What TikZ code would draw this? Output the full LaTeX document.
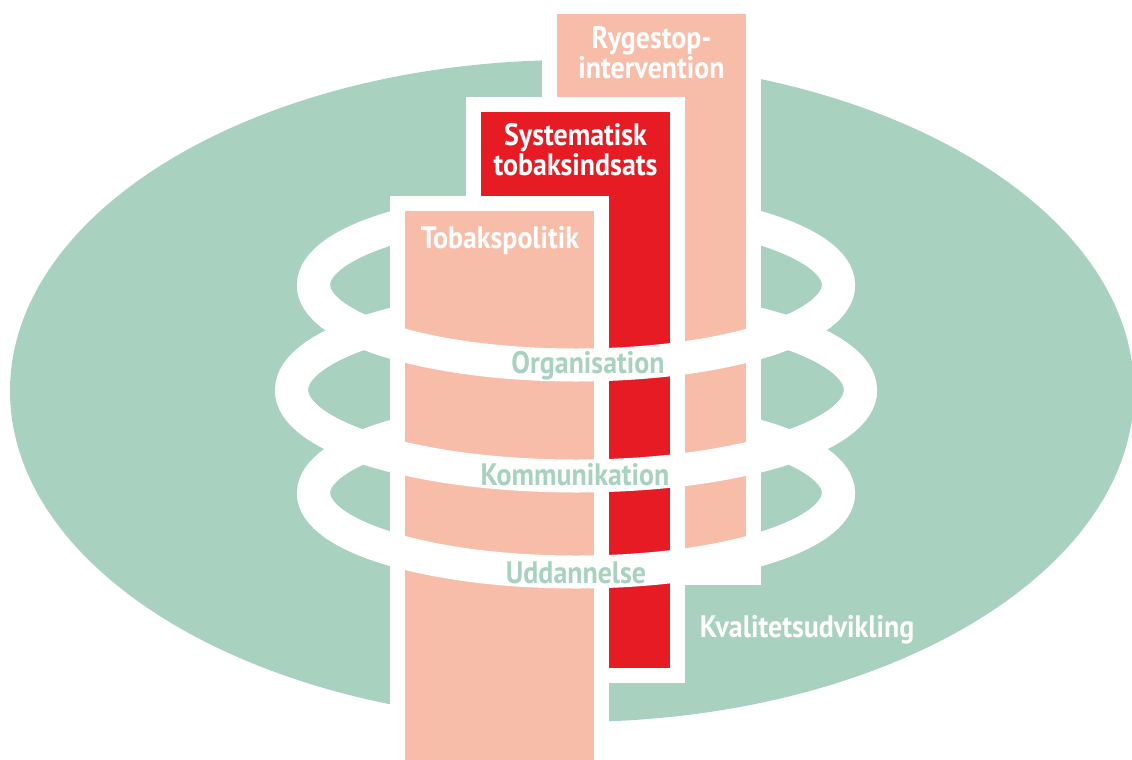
\documentclass[tikz,border=0pt]{standalone}
\usepackage{fontspec}
\setmainfont{PT Sans}[FakeStretch=0.9]
\definecolor{kvalgreen}{HTML}{A8D1BF}
\definecolor{pillarpink}{HTML}{F7BDA8}
\definecolor{tobakred}{HTML}{E61B24}
\tikzstyle{ring} = [draw=white, line width=33pt]
\tikzstyle{border} = [fill=white]
\tikzstyle{pinkpillar} = [fill=pillarpink]
\tikzstyle{redpillar} = [fill=tobakred]
\tikzstyle{title} = [text=white, font=\bfseries\fontsize{31}{30}\selectfont, align=center, inner sep=0pt]
\tikzstyle{ringlabel} = [text=kvalgreen, font=\bfseries\fontsize{31}{30}\selectfont, inner sep=0pt, anchor=base]
\begin{document}
\begin{tikzpicture}[x=1pt, y=-1pt]
				\useasboundingbox (0,0) rectangle (1132,760);
				\fill [kvalgreen] (572,391) ellipse [x radius=562, y radius=331];
				
				\draw [ring] (576,285) ellipse [x radius=262.5, y radius=80];
				\draw [ring] (576,390) ellipse [x radius=284.5, y radius=86];
				\draw [ring] (576,493) ellipse [x radius=262.5, y radius=79];
				
				\fill [border] (542,-5) rectangle (761,585);
				\fill [pinkpillar] (557,14) rectangle (746,570);
				\fill [border] (466,97) rectangle (685,683);
				\fill [redpillar] (481,112) rectangle (670,668);
				\fill [border] (390,196) rectangle (609,765);
				\fill [pinkpillar] (405,211) rectangle (594,765);
				
				\draw [ring] (838.5,285) arc [start angle=0, end angle=180, x radius=262.5, y radius=80];
				\draw [ring] (860.5,390) arc [start angle=0, end angle=180, x radius=284.5, y radius=86];
				\draw [ring] (838.5,493) arc [start angle=0, end angle=180, x radius=262.5, y radius=79];
				
				\node (ryge) [title] at (651.5,53) {Rygestop-\\intervention};
				\node (syst) [title] at (575.5,150) {Systematisk\\tobaksindsats};
				\node (poli) [title, anchor=base] at (500,248) {Tobakspolitik};
				
				\node (org) [ringlabel] at (588,373) {Organisation};
				\node (kom) [ringlabel] at (575,485) {Kommunikation};
				\node (udd) [ringlabel] at (576,583) {Uddannelse};
				\node (kval) [ringlabel, text=white] at (807,637) {Kvalitetsudvikling};
\end{tikzpicture}
\end{document}
